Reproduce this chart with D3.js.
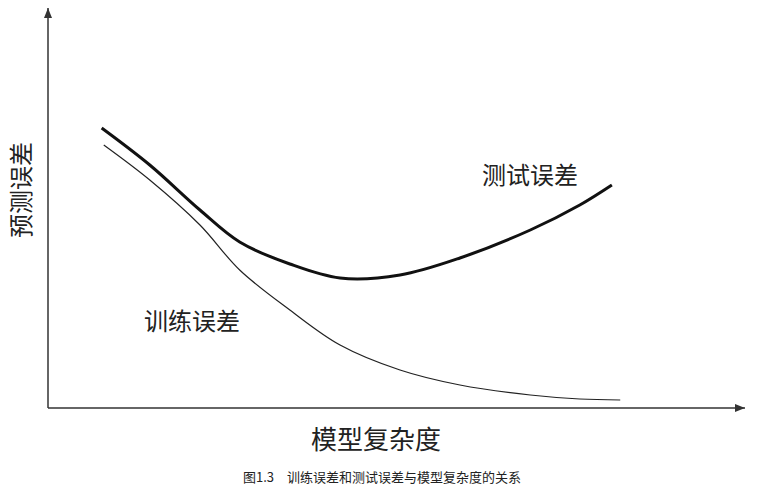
<!DOCTYPE html>
<html><head><meta charset="utf-8">
<script src="https://cdn.jsdelivr.net/npm/d3@7"></script>
<style>body{margin:0;background:#fff}text{font-family:"Noto Sans CJK SC",sans-serif;fill:#222}</style>
</head><body><svg id="chart" width="760" height="496"></svg>
<script>
// model complexity (0-100) vs prediction error (0-100)
const complexity = [7.7, 14.6, 21.8, 27.5, 34.7, 41.9, 50.5, 59.1, 69.2, 76.3, 80.9];
const testError = [70, 60.75, 49.5, 41.5, 36, 32.5, 33.25, 37.5, 44.5, 50.75, 55.75];
const trainComplexity = [8, 14.6, 21.8, 27.5, 34.7, 41.9, 50.5, 59.1, 69.2, 76.3, 82.1];
const trainError = [65.75, 57, 45.75, 34.5, 24.5, 15.75, 9.5, 5.75, 3.25, 2.25, 2];

const svg = d3.select("#chart");
const x = d3.scaleLinear().domain([0, 100]).range([48, 745]);
const y = d3.scaleLinear().domain([0, 100]).range([408, 8]);

svg.append("defs").append("marker")
  .attr("id", "arrow").attr("viewBox", "0 0 10 10").attr("refX", 10).attr("refY", 5)
  .attr("markerWidth", 10).attr("markerHeight", 10).attr("orient", "auto")
  .attr("markerUnits", "userSpaceOnUse")
  .append("path").attr("d", "M0,1 L10,5 L0,9 Z").attr("fill", "#333");

svg.append("line").attr("x1", x(0)).attr("y1", y(0)).attr("x2", x(100)).attr("y2", y(0))
  .attr("stroke", "#333").attr("stroke-width", 1.5).attr("marker-end", "url(#arrow)");
svg.append("line").attr("x1", x(0)).attr("y1", y(0)).attr("x2", x(0)).attr("y2", y(100))
  .attr("stroke", "#333").attr("stroke-width", 1.5).attr("marker-end", "url(#arrow)");

const line = d3.line().curve(d3.curveCatmullRom);
svg.append("path")
  .attr("d", line(complexity.map((c, i) => [x(c), y(testError[i])])))
  .attr("fill", "none").attr("stroke", "#111").attr("stroke-width", 3);
svg.append("path")
  .attr("d", line(trainComplexity.map((c, i) => [x(c), y(trainError[i])])))
  .attr("fill", "none").attr("stroke", "#222").attr("stroke-width", 1.2);

svg.append("text").attr("x", 530).attr("y", 184).attr("text-anchor", "middle")
  .attr("font-size", 24).text("测试误差");
svg.append("text").attr("x", 192).attr("y", 330).attr("text-anchor", "middle")
  .attr("font-size", 24).text("训练误差");
svg.append("text").attr("transform", "translate(30,190) rotate(-90)").attr("text-anchor", "middle")
  .attr("font-size", 24).text("预测误差");
svg.append("text").attr("x", 376).attr("y", 449).attr("text-anchor", "middle")
  .attr("font-size", 26).text("模型复杂度");
svg.append("text").attr("x", 382).attr("y", 482).attr("text-anchor", "middle")
  .attr("font-size", 13).text("图1.3　训练误差和测试误差与模型复杂度的关系");
</script></body></html>
